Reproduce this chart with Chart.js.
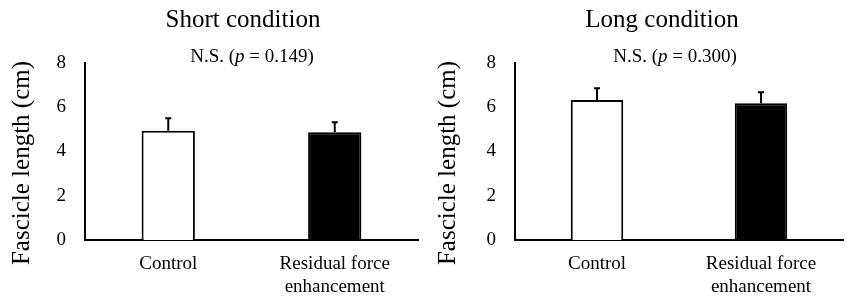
<!DOCTYPE html>
<html>
<head>
<meta charset="utf-8">
<script src="https://cdn.jsdelivr.net/npm/chart.js@4.4.0/dist/chart.umd.min.js"></script>
<style>
  html, body { margin: 0; padding: 0; background: #fff; }
  #wrap { position: relative; width: 851px; height: 297px; }
  .panel { position: absolute; top: 0; height: 297px; }
</style>
</head>
<body>
<div id="wrap">
  <div class="panel" style="left:0;width:425px"><canvas id="chartShort"></canvas></div>
  <div class="panel" style="left:425px;width:426px"><canvas id="chartLong"></canvas></div>
</div>
<script>
// Datos
const categories = ['Control', ['Residual force', 'enhancement']];
const yTicks = [0, 2, 4, 6, 8];

const shortMeans = [4.94, 4.87];
const shortErrors = [0.56, 0.45];
const shortTitle = 'Short condition';
const shortPValue = '0.149';

const longMeans = [6.33, 6.18];
const longErrors = [0.53, 0.50];
const longTitle = 'Long condition';
const longPValue = '0.300';

const yTitle = 'Fascicle length (cm)';
const FONT = "'Liberation Serif', 'Times New Roman', serif";

// Barras de error (solo hacia arriba)
const errorBarPlugin = {
  id: 'errorBars',
  afterDatasetsDraw(chart, args, opts) {
    const ctx = chart.ctx;
    const yScale = chart.scales.y;
    const meta = chart.getDatasetMeta(0);
    const values = chart.data.datasets[0].data;
    ctx.save();
    ctx.strokeStyle = '#000';
    ctx.lineWidth = 2;
    meta.data.forEach((bar, i) => {
      const yTop = yScale.getPixelForValue(values[i] + opts.errors[i]);
      const yBase = yScale.getPixelForValue(values[i]);
      ctx.beginPath();
      ctx.moveTo(bar.x, yBase);
      ctx.lineTo(bar.x, yTop);
      ctx.moveTo(bar.x - 3, yTop);
      ctx.lineTo(bar.x + 3, yTop);
      ctx.stroke();
    });
    ctx.restore();
  }
};

// Títulos y anotación
const textPlugin = {
  id: 'panelText',
  afterDraw(chart, args, opts) {
    const ctx = chart.ctx;
    ctx.save();
    ctx.fillStyle = '#000';
    ctx.textBaseline = 'alphabetic';
    ctx.textAlign = 'center';
    ctx.font = '25px ' + FONT;
    ctx.fillText(opts.title, opts.titleX, 27);

    // N.S. (p = x)
    ctx.textAlign = 'left';
    const parts = [
      { t: 'N.S. (', f: '19px ' + FONT },
      { t: 'p', f: 'italic 19px ' + FONT },
      { t: ' = ' + opts.p + ')', f: '19px ' + FONT }
    ];
    let total = 0;
    parts.forEach(p => { ctx.font = p.f; total += ctx.measureText(p.t).width; });
    let x = opts.nsX - total / 2;
    parts.forEach(p => {
      ctx.font = p.f;
      ctx.fillText(p.t, x, 62);
      x += ctx.measureText(p.t).width;
    });

    // Título del eje Y
    ctx.font = '25px ' + FONT;
    ctx.textAlign = 'center';
    ctx.textBaseline = 'middle';
    ctx.translate(opts.yTitleX, 163);
    ctx.rotate(-Math.PI / 2);
    ctx.fillText(yTitle, 0, 0);
    ctx.restore();
  }
};

function render(canvasId, means, errors, title, pValue, cfg) {
  const ctx = document.getElementById(canvasId).getContext('2d');
  return new Chart(ctx, {
    type: 'bar',
    data: {
      labels: categories,
      datasets: [{
        data: means,
        backgroundColor: ['#ffffff', '#000000'],
        borderColor: '#000000',
        borderWidth: 2,
        borderSkipped: 'bottom',
        categoryPercentage: 1,
        barPercentage: 0.32
      }]
    },
    options: {
      responsive: true,
      maintainAspectRatio: false,
      animation: false,
      events: [],
      layout: { padding: { top: 63, right: cfg.padRight, bottom: 0, left: 0 } },
      plugins: {
        legend: { display: false },
        tooltip: { enabled: false },
        errorBars: { errors: errors },
        panelText: { title: title, p: pValue, titleX: cfg.titleX, nsX: cfg.nsX, yTitleX: cfg.yTitleX }
      },
      scales: {
        x: {
          grid: { display: false, drawTicks: false },
          border: { display: true, color: '#000', width: 2 },
          ticks: {
            color: '#000',
            padding: 13,
            font: { family: FONT, size: 19, lineHeight: 1.2 }
          },
          afterFit(scale) { scale.height = 57; }
        },
        y: {
          min: 0,
          max: 8,
          afterBuildTicks(scale) { scale.ticks = yTicks.map(v => ({ value: v })); },
          grid: { display: false, drawTicks: false },
          border: { display: true, color: '#000', width: 2 },
          ticks: {
            color: '#000',
            padding: 19,
            font: { family: FONT, size: 19 }
          },
          afterFit(scale) { scale.width = cfg.axisLeft; }
        }
      }
    },
    plugins: [errorBarPlugin, textPlugin]
  });
}

render('chartShort', shortMeans, shortErrors, shortTitle, shortPValue,
  { axisLeft: 85, padRight: 7, titleX: 243, nsX: 252, yTitleX: 22 });
render('chartLong', longMeans, longErrors, longTitle, longPValue,
  { axisLeft: 90, padRight: 8, titleX: 237, nsX: 250, yTitleX: 23 });
</script>
</body>
</html>
